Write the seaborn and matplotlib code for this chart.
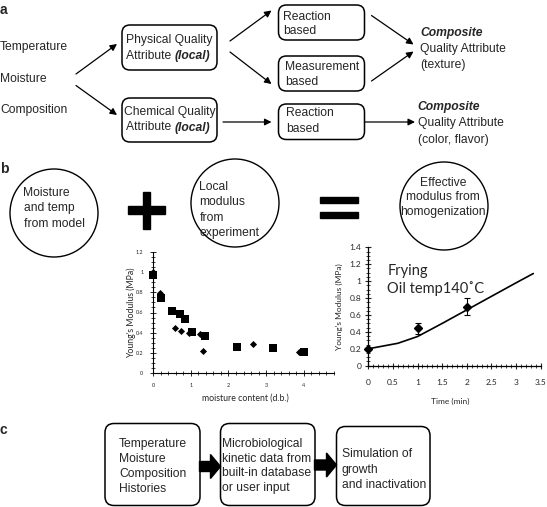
import seaborn as sns
import matplotlib.pyplot as plt
import pandas as pd
from matplotlib.patches import FancyBboxPatch, Circle, Rectangle, FancyArrow
from matplotlib.ticker import MultipleLocator

# panel b, left plot: modulus vs moisture (two sample sets)
sq_moist = [0.0, 0.21, 0.51, 0.71, 0.85, 1.03, 1.38, 2.24, 3.18, 4.0]
sq_mod = [0.97, 0.74, 0.61, 0.59, 0.54, 0.41, 0.37, 0.26, 0.25, 0.21]
di_moist = [0.0, 0.19, 0.54, 0.58, 0.74, 0.96, 1.24, 1.33, 2.66, 3.86]
di_mod = [1.0, 0.79, 0.62, 0.45, 0.42, 0.40, 0.39, 0.22, 0.29, 0.21]

# panel b, right plot: frying at 140 C
model_time = [0, 0.6, 1.0, 1.5, 2.0, 2.5, 3.0, 3.35]
model_mod = [0.2, 0.265, 0.345, 0.5, 0.66, 0.82, 0.98, 1.09]
exp_time = [0, 1, 2]
exp_mod = [0.2, 0.44, 0.70]
exp_err = [0.0, 0.06, 0.10]

sns.set_style('white')
plt.rcParams['font.family'] = ['Liberation Sans', 'DejaVu Sans']

fig = plt.figure(figsize=(5.47, 5.07), dpi=100)

# diagram layer in pixel coordinates
ax0 = fig.add_axes([0, 0, 1, 1])
ax0.set_xlim(0, 547)
ax0.set_ylim(507, 0)
ax0.axis('off')

FS = 8.7


def txt(x, y, s, **kw):
    kw.setdefault('fontsize', FS)
    kw.setdefault('ha', 'left')
    kw.setdefault('va', 'center')
    return ax0.text(x, y, s, **kw)


def box(x0, y0, x1, y1, r=8):
    ax0.add_patch(FancyBboxPatch((x0, y0), x1 - x0, y1 - y0,
                                 boxstyle='round,pad=0,rounding_size=%g' % r,
                                 fc='white', ec='black', lw=1.1))


def arrow(x0, y0, x1, y1):
    ax0.annotate('', xy=(x1, y1), xytext=(x0, y0),
                 arrowprops=dict(arrowstyle='-|>', color='black', lw=0.9,
                                 mutation_scale=10, shrinkA=0, shrinkB=0))


def local_after(t):
    ax0.annotate('(local)', xy=(1, 0), xycoords=t, ha='left', va='bottom',
                 fontsize=FS, fontweight='bold', style='italic')


# ---- panel a ----
txt(0, 10, 'a', fontweight='bold', fontsize=10)
txt(0, 47, 'Temperature')
txt(0, 78.5, 'Moisture')
txt(0, 110, 'Composition')
arrow(76, 74, 117, 44)
arrow(76, 85.5, 117, 115)

box(122, 25, 217, 70)
txt(126, 40, 'Physical Quality')
local_after(txt(126, 56, 'Attribute '))
box(122, 98, 217, 142)
txt(124, 112.5, 'Chemical Quality')
local_after(txt(126, 127.5, 'Attribute '))

arrow(230, 41, 271.5, 10.5)
arrow(230, 52, 271.5, 84)
arrow(223, 122, 271.5, 122)

box(278.5, 5, 364.5, 40)
txt(283, 16.5, 'Reaction')
txt(283, 31.5, 'based')
box(278.5, 56, 364.5, 91)
txt(285, 66.5, 'Measurement')
txt(285, 82, 'based')
box(278.5, 104, 364.5, 139.5)
txt(286, 113.5, 'Reaction')
txt(286, 129, 'based')

arrow(371.5, 15.5, 413.5, 44.5)
arrow(371.5, 81, 413.5, 51.5)
arrow(364.5, 122, 415, 122)

txt(420, 33, 'Composite', fontweight='bold', style='italic')
txt(420, 49, 'Quality Attribute')
txt(420, 65, '(texture)')
txt(417, 107, 'Composite', fontweight='bold', style='italic')
txt(418, 123, 'Quality Attribute')
txt(418, 139.5, '(color, flavor)')

# ---- panel b ----
txt(0, 169, 'b', fontweight='bold', fontsize=10)
for cx, cy in [(54, 213), (235, 203), (444, 206)]:
    ax0.add_patch(Circle((cx, cy), 44, fc='none', ec='black', lw=1.0))
for y, s in zip([193, 208.5, 224], ['Moisture', 'and temp', 'from model']):
    txt(23.5, y, s)
for y, s in zip([186.5, 202, 218, 233], ['Local', 'modulus', 'from', 'experiment']):
    txt(199.5, y, s)
for y, s in zip([182.5, 197, 211.5], ['Effective', 'modulus from', 'homogenization']):
    txt(443, y, s, ha='center')
# plus and equals
ax0.add_patch(Rectangle((128, 206.2), 37, 7.6, color='black'))
ax0.add_patch(Rectangle((142.7, 192), 7.6, 36.5, color='black'))
ax0.add_patch(Rectangle((320, 197), 37.5, 6, color='black'))
ax0.add_patch(Rectangle((320, 212), 37.5, 6, color='black'))

# ---- panel c ----
txt(0, 430, 'c', fontweight='bold', fontsize=10)
box(105, 423.5, 200, 505.5, r=9)
box(220.5, 423.5, 315, 505.5, r=9)
box(336.5, 426.5, 430, 505.5, r=9)
for y, s in zip([443.5, 458.5, 473.5, 488.5],
                ['Temperature', 'Moisture', 'Composition', 'Histories']):
    txt(119, y, s)
for y, s in zip([443.5, 458.5, 473.5, 488.5],
                ['Microbiological', 'kinetic data from', 'built-in database', 'or user input']):
    txt(222, y, s)
for y, s in zip([454, 469.5, 484.5], ['Simulation of', 'growth', 'and inactivation']):
    txt(342, y, s)
ax0.add_patch(FancyArrow(199.5, 466.5, 21, 0, width=10, head_width=24, head_length=10,
                         length_includes_head=True, color='black'))
ax0.add_patch(FancyArrow(314.5, 465, 22, 0, width=10, head_width=24, head_length=10,
                         length_includes_head=True, color='black'))

# ---- left plot ----
W, H = 547.0, 507.0
axl = fig.add_axes([153 / W, (H - 373) / H, 181 / W, 121 / H])
axl.patch.set_alpha(0)
df_l = pd.DataFrame({
    'moisture': sq_moist + di_moist,
    'modulus': sq_mod + di_mod,
    'set': ['sq'] * len(sq_moist) + ['di'] * len(di_moist),
})
sns.scatterplot(data=df_l[df_l['set'] == 'sq'], x='moisture', y='modulus', ax=axl,
                marker='s', s=28, color='black', edgecolor='black', linewidth=0,
                clip_on=False, zorder=5)
sns.scatterplot(data=df_l[df_l['set'] == 'di'], x='moisture', y='modulus', ax=axl,
                marker='D', s=13, color='black', edgecolor='black', linewidth=0,
                clip_on=False, zorder=5)
axl.set_xlim(0, 4.8)
axl.set_ylim(0, 1.2)
axl.set_xticks([0, 1, 2, 3, 4])
axl.set_yticks([0, 0.2, 0.4, 0.6, 0.8, 1.0, 1.2])
axl.set_xticklabels(['0', '1', '2', '3', '4'])
axl.set_yticklabels(['0', '0.2', '0.4', '0.6', '0.8', '1', '1.2'])
axl.xaxis.set_minor_locator(MultipleLocator(0.2))
axl.yaxis.set_minor_locator(MultipleLocator(0.05))
axl.tick_params(which='major', direction='inout', length=4, width=0.7,
                labelsize=4, pad=5, left=True, bottom=True)
axl.tick_params(which='minor', direction='inout', length=2.5, width=0.6,
                left=True, bottom=True)
axl.set_xlabel('moisture content (d.b.)', fontsize=6.3, family='Lato')
axl.set_ylabel("Young's Modulus (MPa)", fontsize=6.3, family='Lato')
axl.xaxis.set_label_coords(0.508, -0.207)
axl.yaxis.set_label_coords(-0.12, 0.5)
axl.xaxis.label.set_va('center')
axl.yaxis.label.set_va('center')
for sp in ['top', 'right']:
    axl.spines[sp].set_visible(False)
for sp in ['left', 'bottom']:
    axl.spines[sp].set_linewidth(0.8)
    axl.spines[sp].set_color('black')
for lab in axl.get_xticklabels() + axl.get_yticklabels():
    lab.set_family('Lato')

# ---- right plot ----
axr = fig.add_axes([368.3 / W, (H - 365.7) / H, 172.4 / W, 118.4 / H])
axr.patch.set_alpha(0)
df_m = pd.DataFrame({'time': model_time, 'modulus': model_mod})
sns.lineplot(data=df_m, x='time', y='modulus', ax=axr, color='black', lw=1.2)
axr.errorbar(exp_time, exp_mod, yerr=exp_err, fmt='D', ms=4, color='black',
             ecolor='black', elinewidth=0.8, capsize=2, capthick=0.8,
             clip_on=False, zorder=5)
axr.set_xlim(0, 3.5)
axr.set_ylim(0, 1.4)
axr.set_xticks([0, 0.5, 1, 1.5, 2, 2.5, 3, 3.5])
axr.set_xticklabels(['0', '0.5', '1', '1.5', '2', '2.5', '3', '3.5'])
axr.set_yticks([0, 0.2, 0.4, 0.6, 0.8, 1.0, 1.2, 1.4])
axr.set_yticklabels(['0', '0.2', '0.4', '0.6', '0.8', '1', '1.2', '1.4'])
axr.xaxis.set_minor_locator(MultipleLocator(0.1))
axr.yaxis.set_minor_locator(MultipleLocator(0.05))
axr.tick_params(which='major', direction='inout', length=5, width=0.8,
                labelsize=6, left=True, bottom=True)
axr.tick_params(axis='x', which='major', pad=7)
axr.tick_params(axis='y', which='major', pad=2.5)
axr.tick_params(which='minor', direction='inout', length=3, width=0.6,
                left=True, bottom=True)
axr.set_xlabel('Time (min)', fontsize=6, family='Lato')
axr.set_ylabel("Young's Modulus (MPa)", fontsize=6, family='Lato')
axr.xaxis.set_label_coords(0.475, -0.298)
axr.yaxis.set_label_coords(-0.168, 0.5)
axr.xaxis.label.set_va('center')
axr.yaxis.label.set_va('center')
for sp in ['top', 'right']:
    axr.spines[sp].set_visible(False)
for sp in ['left', 'bottom']:
    axr.spines[sp].set_linewidth(0.9)
    axr.spines[sp].set_color('black')
for lab in axr.get_xticklabels() + axr.get_yticklabels():
    lab.set_family('Lato')
axr.text(0.11, 0.80, 'Frying', transform=axr.transAxes, fontsize=10.5,
         family='Lato', va='center', ha='left')
axr.text(0.11, 0.655, 'Oil temp140\u02daC', transform=axr.transAxes, fontsize=10.5,
         family='Lato', va='center', ha='left')

fig.savefig('out.png', dpi=100)
